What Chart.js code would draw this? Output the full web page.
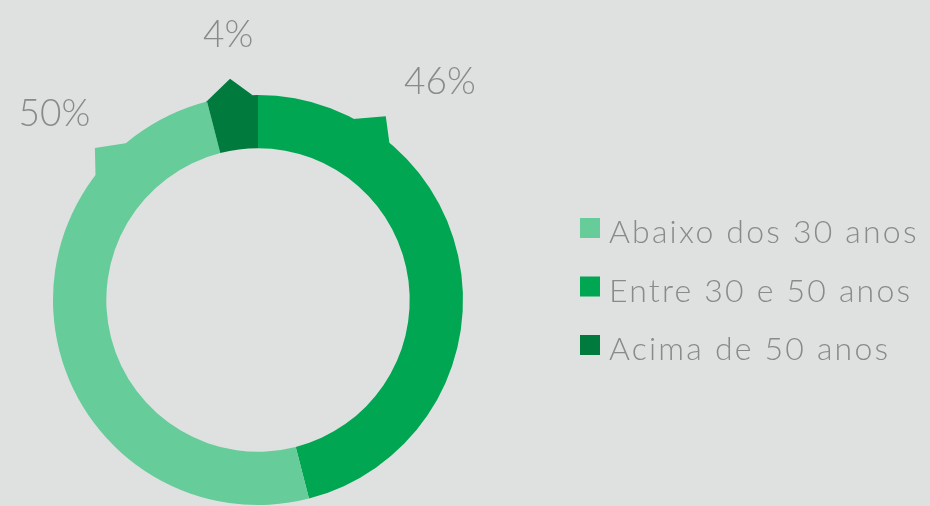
<!DOCTYPE html>
<html>
<head>
<meta charset="utf-8">
<script src="https://cdn.jsdelivr.net/npm/chart.js@4.4.0/dist/chart.umd.min.js"></script>
<style>
  html, body { margin: 0; padding: 0; background: #dfe1e0; }
  #wrap { position: relative; width: 930px; height: 506px; }
  canvas { display: block; }
</style>
</head>
<body>
<div id="wrap"><canvas id="c" width="930" height="506"></canvas></div>
<script>
// ---- data (drawing order, clockwise from 12 o'clock) ----
const categories = ['Entre 30 e 50 anos', 'Abaixo dos 30 anos', 'Acima de 50 anos'];
const values = [46, 50, 4];
const valueLabels = ['46%', '50%', '4%'];
// legend order (indexes into categories)
const legendOrder = [1, 0, 2];

// ---- styles ----
const colors = ['#00a651', '#66cc99', '#007a3d'];
const textColor = '#8a8a8a';
const fontFamily = 'Lato, "Open Sans", sans-serif';

// callout tabs: compass angles (deg, clockwise from top), apex radius factor
const tabs = [
  { index: 0, a1: 27.7, a2: 40.0, apex: 34.8, r: 1.092 },
  { index: 1, a1: 307.4, a2: 320.2, apex: 313.0, r: 1.088 },
  { index: 2, a1: 345.2, a2: 358.6, apex: 352.8, r: 1.088 }
];
// value label placement: compass angle + distance factor (text centre)
const labelPos = [
  { angle: 39.7, dist: 1.389 },
  { angle: 312.7, dist: 1.351 },
  { angle: 353.6, dist: 1.308 }
];

function polar(cx, cy, r, deg) {
  const a = (deg - 90) * Math.PI / 180;
  return [cx + r * Math.cos(a), cy + r * Math.sin(a)];
}

const decor = {
  id: 'decor',
  afterDatasetsDraw(chart) {
    const ctx = chart.ctx;
    const meta = chart.getDatasetMeta(0);
    const arc0 = meta.data[0];
    const cx = arc0.x, cy = arc0.y, R = arc0.outerRadius;
    ctx.save();
    // tabs
    tabs.forEach(t => {
      const p1 = polar(cx, cy, R - 0.5, t.a1);
      const p2 = polar(cx, cy, R * t.r, t.apex);
      const p3 = polar(cx, cy, R - 0.5, t.a2);
      ctx.beginPath();
      ctx.moveTo(p1[0], p1[1]);
      ctx.lineTo(p2[0], p2[1]);
      ctx.lineTo(p3[0], p3[1]);
      ctx.closePath();
      ctx.fillStyle = colors[t.index];
      ctx.fill();
    });
    // value labels
    ctx.fillStyle = textColor;
    ctx.font = '300 37px ' + fontFamily;
    ctx.textAlign = 'center';
    ctx.textBaseline = 'alphabetic';
    valueLabels.forEach((txt, i) => {
      const p = polar(cx, cy, R * labelPos[i].dist, labelPos[i].angle);
      ctx.fillText(txt, p[0], p[1] + 13.5);
    });
    // legend
    ctx.font = '300 32px ' + fontFamily;
    ctx.textAlign = 'left';
    if ('letterSpacing' in ctx) ctx.letterSpacing = '2.2px';
    const lx = 580, ly = 218, step = 58.5, box = 20;
    legendOrder.forEach((idx, row) => {
      const y = ly + row * step;
      ctx.fillStyle = colors[idx];
      ctx.fillRect(lx, y, box, box);
      ctx.fillStyle = textColor;
      ctx.fillText(categories[idx], lx + 29, y + 25);
    });
    ctx.restore();
  }
};

new Chart(document.getElementById('c'), {
  type: 'doughnut',
  data: {
    labels: categories,
    datasets: [{
      data: values,
      backgroundColor: colors,
      borderWidth: 0,
      hoverOffset: 0
    }]
  },
  options: {
    responsive: false,
    animation: false,
    cutout: '74%',
    layout: { padding: { left: 53, top: 95, right: 467, bottom: 1 } },
    plugins: {
      legend: { display: false },
      tooltip: { enabled: false }
    }
  },
  plugins: [decor]
});
</script>
</body>
</html>
